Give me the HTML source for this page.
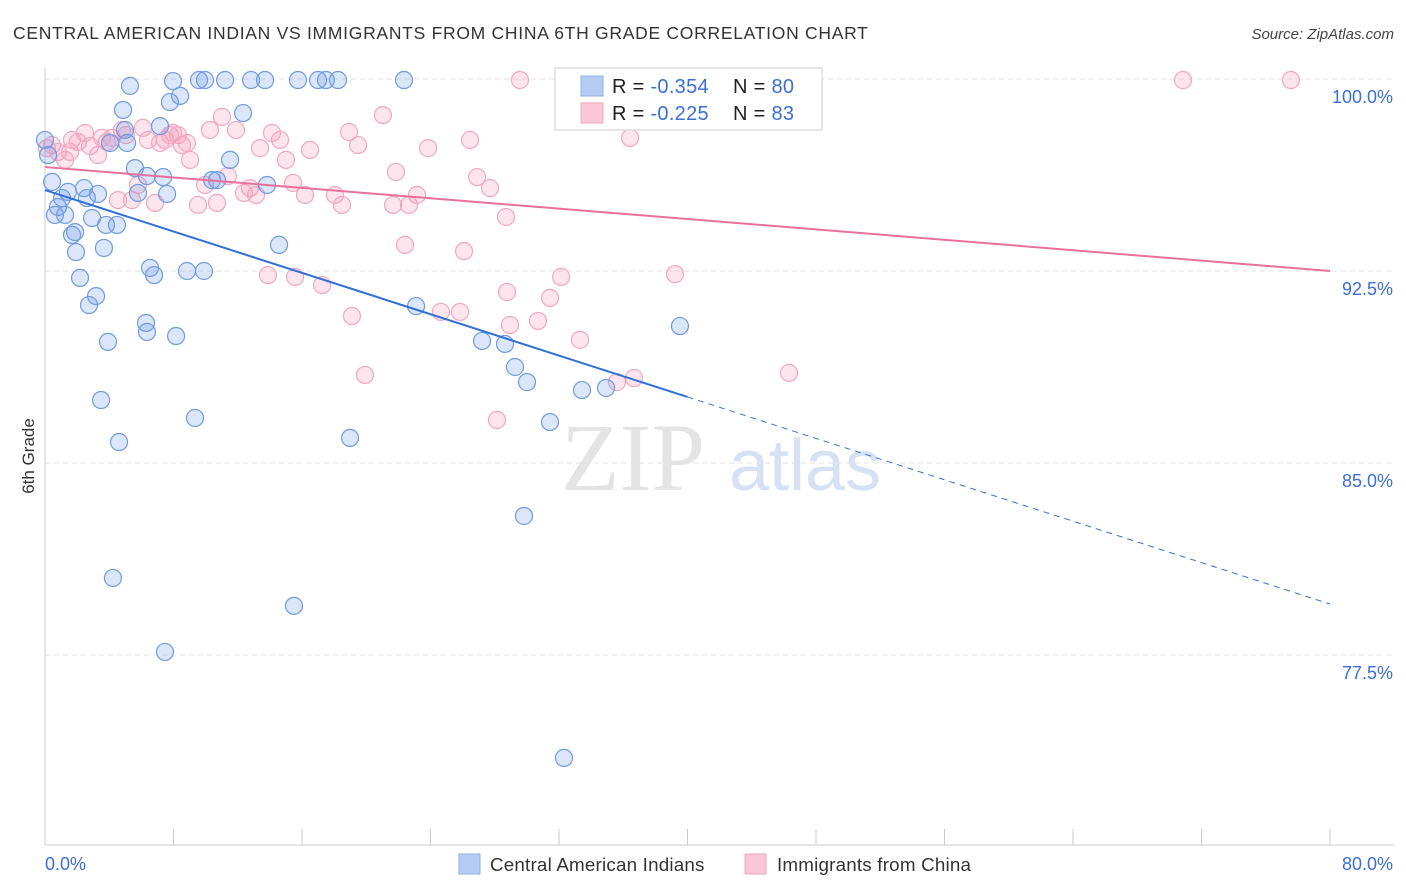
<!DOCTYPE html>
<html><head><meta charset="utf-8">
<style>
body{margin:0;background:#fff;font-family:"Liberation Sans",sans-serif;}
#wrap{position:relative;width:1406px;height:892px;overflow:hidden;}
</style></head>
<body>
<div id="wrap">
<svg id="svg" width="1406" height="892" xmlns="http://www.w3.org/2000/svg">
<text x="13" y="39" font-size="17.5" fill="#333" letter-spacing="0.72">CENTRAL AMERICAN INDIAN VS IMMIGRANTS FROM CHINA 6TH GRADE CORRELATION CHART</text>
<text x="1394" y="39" font-size="15" fill="#444" text-anchor="end" font-style="italic">Source: ZipAtlas.com</text>
<text x="34" y="456" font-size="17" fill="#333" text-anchor="middle" transform="rotate(-90 34 456)">6th Grade</text>
<g>
<text x="633" y="490" font-size="96" fill="#e4e4e4" text-anchor="middle" font-family="Liberation Serif,serif">ZIP</text>
<text x="805" y="490" font-size="72" fill="#d6e2f4" text-anchor="middle">atlas</text>
</g>
<g id="grid"></g>
<g id="marks"></g>
<g id="lines"></g>
<g>
<rect x="555" y="68" width="267" height="62" fill="#fff" stroke="#ddd" stroke-width="1.5"/>
<rect x="581" y="76" width="22" height="20" fill="#b5cdf3" stroke="#8fb0e6"/>
<rect x="581" y="103" width="22" height="20" fill="#f8c6d6" stroke="#f0a5bf"/>
<text x="612" y="93" font-size="20" fill="#222" letter-spacing="0.3">R = <tspan fill="#3b6fd4">-0.354</tspan></text>
<text x="733" y="93" font-size="20" fill="#222" letter-spacing="0.3">N = <tspan fill="#3b6fd4">80</tspan></text>
<text x="612" y="120" font-size="20" fill="#222" letter-spacing="0.3">R = <tspan fill="#3b6fd4">-0.225</tspan></text>
<text x="733" y="120" font-size="20" fill="#222" letter-spacing="0.3">N = <tspan fill="#3b6fd4"> 83</tspan></text>
</g>
<g>
<rect x="459" y="854" width="21" height="20" fill="#b5cdf3" stroke="#8fb0e6"/>
<text x="490" y="871" font-size="18.8" fill="#333" letter-spacing="0.2">Central American Indians</text>
<rect x="745" y="854" width="21" height="20" fill="#f8c6d6" stroke="#f0a5bf"/>
<text x="777" y="871" font-size="18.8" fill="#333" letter-spacing="0.2">Immigrants from China</text>
</g>
</svg>
</div>
<script>
const xTicksLabels = ["0.0%","80.0%"];
const yTicks = [100,92.5,85,77.5];
const yTickLabels = ["100.0%","92.5%","85.0%","77.5%"];
const blueX = [0.0,0.19,0.44,0.62,0.81,1.06,1.25,1.43,1.68,1.87,1.93,2.18,2.43,2.61,2.74,2.93,3.18,3.30,3.49,3.67,3.80,3.92,4.23,4.48,4.61,4.86,4.98,5.11,5.29,5.60,5.79,6.35,6.54,6.79,6.29,6.35,7.16,7.35,7.60,7.47,7.78,7.97,8.16,8.41,8.84,9.34,9.59,9.90,9.96,10.40,10.71,11.21,11.52,12.33,12.83,13.70,13.82,14.57,15.50,15.75,17.00,17.49,18.24,18.99,22.35,23.10,27.21,28.64,29.26,30.01,29.82,31.44,32.31,33.43,34.93,39.53,4.05];
const blueY = [97.62,97.03,95.98,94.69,95.0,95.35,94.69,95.59,93.91,94.02,93.24,92.23,95.74,95.35,91.17,94.57,91.52,95.51,87.46,93.40,94.30,89.73,80.51,94.30,85.82,98.79,98.01,97.50,99.73,96.52,95.55,96.21,92.62,92.34,90.47,90.12,98.16,96.17,95.51,77.62,99.10,99.92,89.96,99.34,92.50,86.76,99.96,92.50,99.96,96.05,96.05,99.96,96.84,98.67,99.96,99.96,95.86,93.52,79.42,99.96,99.96,99.96,99.96,85.98,99.96,91.13,89.77,89.65,88.75,88.16,82.93,86.60,73.48,87.85,87.93,90.35,97.50];
const pinkX = [0.12,0.44,0.81,1.25,1.56,1.68,2.05,2.49,2.80,3.30,3.55,3.86,4.17,4.54,4.79,5.04,5.42,5.79,6.10,6.41,6.85,7.16,7.47,7.78,7.97,8.28,8.53,8.84,9.03,9.53,9.96,10.27,10.71,11.02,11.39,11.89,12.39,12.76,13.14,13.39,13.88,14.13,14.63,15.00,15.44,15.57,16.19,16.50,17.25,18.05,18.49,18.93,19.11,19.49,19.92,21.04,21.67,21.85,22.41,22.66,23.16,23.85,24.65,25.84,26.09,26.46,26.90,27.71,28.14,28.70,28.76,28.95,29.57,30.69,31.44,32.13,33.31,32.94,35.61,36.42,36.67,39.22,41.09,46.32,70.85,77.57];
const pinkY = [97.30,97.42,97.15,96.84,97.15,97.62,97.54,97.89,97.38,97.03,97.70,97.54,97.70,95.27,98.01,97.81,95.27,95.86,98.09,97.62,95.16,97.50,97.62,97.81,97.89,97.81,97.42,97.50,96.84,95.08,95.86,98.01,95.16,98.52,96.21,98.01,95.55,95.74,95.47,97.30,92.34,97.89,97.62,96.84,95.94,92.27,95.47,97.23,91.95,95.47,95.08,97.93,90.74,97.42,88.44,98.59,95.08,96.37,93.52,95.08,95.47,97.30,90.90,90.90,93.28,97.62,96.17,95.74,86.68,94.61,91.68,90.39,99.96,90.55,91.45,92.27,89.81,99.96,88.16,97.70,88.32,92.38,99.96,88.52,99.96,99.96];
const blueTrend = [95.66,87.58,79.49]; // at x=0,40,80
const pinkTrend = [96.56,92.5]; // at x=0,80

const X0=45,X1=1330,Y100=79,PXPER=25.6;
const sx = v => X0 + v/80*(X1-X0);
const sy = v => Y100 + (100-v)*PXPER;
const NS="http://www.w3.org/2000/svg";
function mk(tag,attrs,parent){const e=document.createElementNS(NS,tag);for(const k in attrs)e.setAttribute(k,attrs[k]);parent.appendChild(e);return e;}
const grid=document.getElementById('grid'), marks=document.getElementById('marks'), lines=document.getElementById('lines');

yTicks.forEach((t,i)=>{
  const l=mk('line',{x1:45,x2:1395,y1:sy(t),y2:sy(t),stroke:'#e2e2e2','stroke-dasharray':'5,4'},grid);
  
  
  const tx=mk('text',{x:1393,y:sy(t)+24,'font-size':18,fill:'#3b6fd4','text-anchor':'end'},grid);
  tx.textContent=yTickLabels[i];
  
  
});
const ax=mk('line',{x1:45,x2:45,y1:68,y2:845,stroke:'#ccc'},grid);


const bx=mk('line',{x1:45,x2:1395,y1:845,y2:845,stroke:'#ccc'},grid);


for(let k=0;k<=10;k++){
  const t=mk('line',{x1:sx(k*8),x2:sx(k*8),y1:829,y2:845,stroke:'#ccc'},grid);
  
  
}
const xl0=mk('text',{x:45,y:870,'font-size':18,fill:'#3b6fd4'},grid);xl0.textContent=xTicksLabels[0];


const xl1=mk('text',{x:1393,y:870,'font-size':18,fill:'#3b6fd4','text-anchor':'end'},grid);xl1.textContent=xTicksLabels[1];



pinkX.forEach((x,i)=>{
  const c=mk('circle',{cx:sx(x),cy:sy(pinkY[i]),r:8.5,fill:'rgba(244,160,190,0.28)',stroke:'#f2a7c0','stroke-width':1.2},marks);
  
  
});
blueX.forEach((x,i)=>{
  const c=mk('circle',{cx:sx(x),cy:sy(blueY[i]),r:8.5,fill:'rgba(110,155,230,0.25)',stroke:'#6f9be0','stroke-width':1.2},marks);
  
  
});
const bl=mk('line',{x1:sx(0),y1:sy(blueTrend[0]),x2:sx(40),y2:sy(blueTrend[1]),stroke:'#2f6fd6','stroke-width':2},lines);


const bd=mk('line',{x1:sx(40),y1:sy(blueTrend[1]),x2:sx(80),y2:sy(blueTrend[2]),stroke:'#2f6fd6','stroke-width':1,'stroke-dasharray':'6,5'},lines);


const pl=mk('line',{x1:sx(0),y1:sy(pinkTrend[0]),x2:sx(80),y2:sy(pinkTrend[1]),stroke:'#e8709a','stroke-width':2},lines);


</script>
</body></html>
